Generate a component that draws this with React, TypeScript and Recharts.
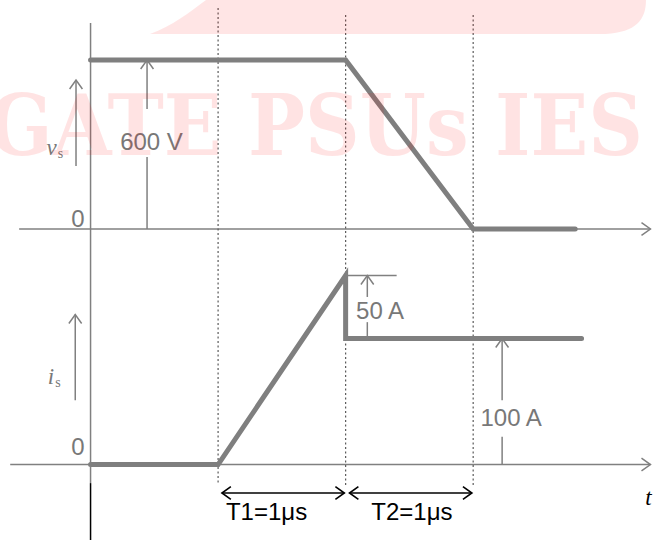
import React from 'react'
import { ComposedChart, Line, XAxis, YAxis, ReferenceLine, ReferenceDot } from 'recharts'

// switch voltage / current during turn-on, time in µs
const vsData = [
  { t: 0, v: 600 },
  { t: 2, v: 600 },
  { t: 3, v: 0 },
  { t: 3.8, v: 0 },
]

const isData = [
  { t: 0, i: 0 },
  { t: 1, i: 0 },
  { t: 2, i: 150 },
  { t: 2, i: 100 },
  { t: 3.85, i: 100 },
]

const edgeTimes = [1, 2, 3]

const intervals = [
  { from: 1, to: 2, label: 'T1=1μs', at: 1.38 },
  { from: 2, to: 3, label: 'T2=1μs', at: 2.52 },
]

const supplyVoltage = 600
const loadCurrent = 100
const peakCurrent = 150

const W = 653
const H = 540
const GREY = '#808080'
const TEXT = '#787878'
const SANS = '"Liberation Sans", Arial, sans-serif'
const SERIF = '"Liberation Serif", "Times New Roman", serif'

// the two panels share one plot area, each with its own hidden y axis
const T_DOMAIN: [number, number] = [-0.71, 4.41]
const V_DOMAIN: [number, number] = [-1104, 813]
const I_DOMAIN: [number, number] = [-59.9, 368.7]

const arrow = (opts: { start?: boolean; end?: boolean; color?: string; width?: number; dash?: string }) =>
  (p: any) => {
    const { x1, y1, x2, y2 } = p
    const color = opts.color || GREY
    const sw = opts.width || 1.5
    const a = Math.atan2(y2 - y1, x2 - x1)
    const L = 11
    const spread = 0.62
    const head = (x: number, y: number, ang: number) =>
      `M${x - L * Math.cos(ang - spread)},${y - L * Math.sin(ang - spread)}L${x},${y}L${x - L * Math.cos(ang + spread)},${y - L * Math.sin(ang + spread)}`
    return (
      <g>
        <line x1={x1} y1={y1} x2={x2} y2={y2} stroke={color} strokeWidth={sw} strokeDasharray={opts.dash} />
        {opts.end && <path d={head(x2, y2, a)} fill="none" stroke={color} strokeWidth={sw} />}
        {opts.start && <path d={head(x1, y1, a + Math.PI)} fill="none" stroke={color} strokeWidth={sw} />}
      </g>
    )
  }

const label = (content: React.ReactNode, extra: any = {}) => (p: any) => (
  <text
    x={p.cx}
    y={p.cy}
    textAnchor="middle"
    dominantBaseline="central"
    fontFamily={SANS}
    fontSize={24}
    fill={TEXT}
    {...extra}
  >
    {content}
  </text>
)

const subLabel = (main: string) => (p: any) => (
  <text x={p.cx} y={p.cy} fontFamily={SERIF} fill={TEXT}>
    <tspan fontStyle="italic" fontSize={23}>{main}</tspan>
    <tspan fontSize={14} dx={1} dy={3}>s</tspan>
  </text>
)

function Watermark() {
  return (
    <svg width={W} height={H} style={{ position: 'absolute', left: 0, top: 0, pointerEvents: 'none' }}>
      <path d="M150,34 C172,26 190,12 206,0 L646,0 C646,20 636,32 606,34 Z" fill="#ff0000" fillOpacity={0.1} />
      <text
        x={-12}
        y={155}
        fontFamily='"DejaVu Serif", serif'
        fontWeight="bold"
        fontSize={84}
        textLength={655}
        lengthAdjust="spacingAndGlyphs"
        fill="#ff0000"
        fillOpacity={0.11}
      >
        GATE PSUs IES
      </text>
    </svg>
  )
}

export default function App() {
  return (
    <div style={{ position: 'absolute', left: 0, top: 0, width: W, height: H, background: '#fff' }}>
      <ComposedChart width={W} height={H} margin={{ top: 0, right: 0, bottom: 0, left: 0 }}>
        <XAxis hide type="number" dataKey="t" domain={T_DOMAIN} allowDataOverflow />
        <YAxis hide yAxisId="v" type="number" domain={V_DOMAIN} allowDataOverflow />
        <YAxis hide yAxisId="i" type="number" domain={I_DOMAIN} allowDataOverflow />

        {/* time axes */}
        <ReferenceLine yAxisId="v" ifOverflow="visible"
          segment={[{ x: -0.56, y: 0 }, { x: 4.39, y: 0 }]} shape={arrow({ end: true })} />
        <ReferenceLine yAxisId="i" ifOverflow="visible"
          segment={[{ x: -0.63, y: 0 }, { x: 4.39, y: 0 }]} shape={arrow({ end: true })} />
        <ReferenceLine yAxisId="v" ifOverflow="visible"
          segment={[{ x: 0, y: 731 }, { x: 0, y: -902 }]} shape={arrow({})} />
        <ReferenceLine yAxisId="v" ifOverflow="visible"
          segment={[{ x: 0, y: -902 }, { x: 0, y: -1104 }]} shape={arrow({ color: '#000' })} />

        {/* switching instants */}
        {edgeTimes.map((t, k) => (
          <ReferenceLine key={`edge-${k}`} yAxisId="v" ifOverflow="visible"
            segment={[{ x: t, y: k === 0 ? 785 : 760 }, { x: t, y: -909 }]}
            shape={arrow({ color: '#5a5a5a', width: 1.2, dash: '2 2.5' })} />
        ))}

        <Line yAxisId="v" data={vsData} dataKey="v" type="linear" stroke="#7f7f7f" strokeWidth={5}
          dot={false} activeDot={false} isAnimationActive={false} strokeLinecap="round" />
        <Line yAxisId="i" data={isData} dataKey="i" type="linear" stroke="#7f7f7f" strokeWidth={5}
          dot={false} activeDot={false} isAnimationActive={false} strokeLinecap="round" />

        {/* v_s annotations */}
        <ReferenceLine yAxisId="v" ifOverflow="visible"
          segment={[{ x: -0.114, y: 224 }, { x: -0.114, y: 529 }]} shape={arrow({ end: true })} />
        <ReferenceLine yAxisId="v" ifOverflow="visible"
          segment={[{ x: 0.443, y: 0 }, { x: 0.443, y: 256 }]} shape={arrow({})} />
        <ReferenceLine yAxisId="v" ifOverflow="visible"
          segment={[{ x: 0.443, y: 426 }, { x: 0.443, y: supplyVoltage }]} shape={arrow({ end: true })} />
        <ReferenceDot yAxisId="v" ifOverflow="visible" x={0.478} y={309} shape={label(`${supplyVoltage} V`)} />
        <ReferenceDot yAxisId="v" ifOverflow="visible" x={-0.098} y={39} shape={label('0')} />
        <ReferenceDot yAxisId="v" ifOverflow="visible" x={-0.345} y={262} shape={subLabel('v')} />

        {/* i_s annotations */}
        <ReferenceLine yAxisId="i" ifOverflow="visible"
          segment={[{ x: -0.12, y: 51 }, { x: -0.12, y: 119 }]} shape={arrow({ end: true })} />
        <ReferenceDot yAxisId="i" ifOverflow="visible" x={-0.098} y={14} shape={label('0')} />
        <ReferenceDot yAxisId="i" ifOverflow="visible" x={-0.335} y={64} shape={subLabel('i')} />

        <ReferenceLine yAxisId="i" ifOverflow="visible"
          segment={[{ x: 2, y: peakCurrent }, { x: 2.4, y: peakCurrent }]} shape={arrow({})} />
        <ReferenceLine yAxisId="i" ifOverflow="visible"
          segment={[{ x: 2.17, y: loadCurrent }, { x: 2.17, y: 113 }]} shape={arrow({})} />
        <ReferenceLine yAxisId="i" ifOverflow="visible"
          segment={[{ x: 2.17, y: 133 }, { x: 2.17, y: peakCurrent }]} shape={arrow({ end: true })} />
        <ReferenceDot yAxisId="i" ifOverflow="visible" x={2.27} y={122}
          shape={label(`${peakCurrent - loadCurrent} A`)} />

        <ReferenceLine yAxisId="i" ifOverflow="visible"
          segment={[{ x: 3.227, y: 0 }, { x: 3.227, y: 22 }]} shape={arrow({})} />
        <ReferenceLine yAxisId="i" ifOverflow="visible"
          segment={[{ x: 3.227, y: 51 }, { x: 3.227, y: loadCurrent }]} shape={arrow({ end: true })} />
        <ReferenceDot yAxisId="i" ifOverflow="visible" x={3.298} y={37} shape={label(`${loadCurrent} A`)} />

        {/* interval markers */}
        {intervals.map((iv, k) => (
          <ReferenceLine key={`iv-${k}`} yAxisId="i" ifOverflow="visible"
            segment={[{ x: iv.from + 0.03, y: -22.6 }, { x: iv.to - 0.01, y: -22.6 }]}
            shape={arrow({ start: true, end: true, color: '#000', width: 1.6 })} />
        ))}
        {intervals.map((iv, k) => (
          <ReferenceDot key={`ivl-${k}`} yAxisId="i" ifOverflow="visible" x={iv.at} y={-37.5}
            shape={label(iv.label, { fill: '#000' })} />
        ))}
        <ReferenceDot yAxisId="i" ifOverflow="visible" x={4.349} y={-32}
          shape={(p: any) => (
            <text x={p.cx} y={p.cy} fontFamily={SERIF} fontStyle="italic" fontSize={23} fill="#000">t</text>
          )} />
      </ComposedChart>
      <Watermark />
    </div>
  )
}
